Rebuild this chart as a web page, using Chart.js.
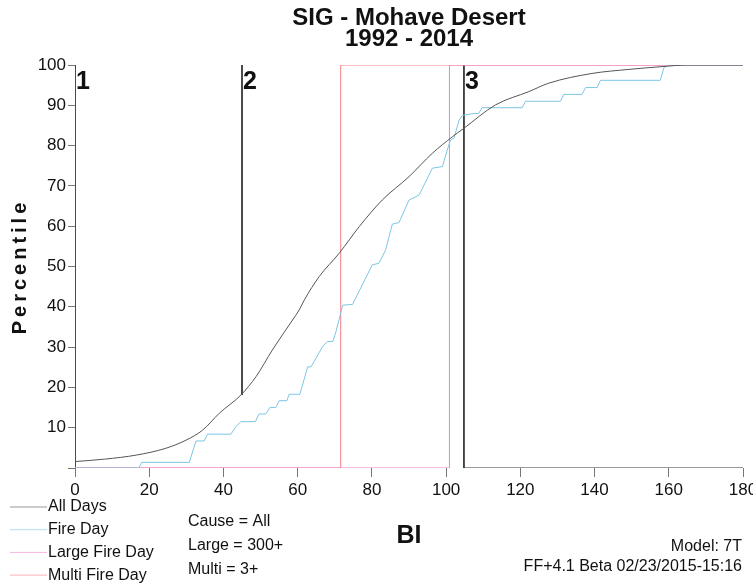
<!DOCTYPE html>
<html>
<head>
<meta charset="utf-8">
<script src="https://cdn.jsdelivr.net/npm/chart.js@4.4.0/dist/chart.umd.min.js"></script>
<style>
	html, body { margin: 0; padding: 0; background: #fff; }
</style>
</head>
<body>
<canvas id="myChart" width="753" height="587"></canvas>
<script>
// cumulative percentile curves
const allDaysBI = [0, 8, 16.5, 24.5, 29.9, 34.4, 38.9, 44.7, 48.8, 53.2, 58.6, 60.4, 61.8, 65.8, 71.2, 76.6, 82.8, 90, 96.3, 101.7, 104.8, 113.3, 122.3, 127.7, 139.3, 149.2, 158.2, 165, 180];
const allDaysPct = [1.6, 2.2, 3.2, 4.9, 6.9, 9.4, 13.6, 18.1, 22.7, 29.3, 36.7, 39.2, 41.7, 47.5, 53.3, 59.9, 66.5, 72.3, 78.1, 82.2, 84.3, 90.1, 93.4, 95.5, 97.9, 98.9, 99.6, 100, 100];

const fireDayBI = [0, 17.2, 18, 30.8, 32.6, 34.8, 35.7, 42, 43.4, 44.7, 48.6, 49.6, 51.4, 52.5, 54.1, 55, 57.1, 57.7, 60.6, 62.7, 63.6, 66.7, 68, 69.5, 70.3, 71.2, 71.6, 72.1, 74.8, 80.1, 81.9, 83.7, 85.5, 87.3, 90, 92.7, 96.3, 99, 100.3, 101.2, 102.1, 103.5, 104.4, 107, 108.8, 109.7, 120.5, 121.4, 130.8, 131.7, 136.6, 137.6, 140.7, 141.6, 157.7, 158.7, 160, 180];
const fireDayPct = [0, 0, 1.4, 1.4, 6.7, 6.7, 8.4, 8.4, 10.3, 11.5, 11.5, 13.4, 13.4, 15, 15, 16.7, 16.7, 18.3, 18.3, 25.1, 25.1, 30.1, 31.4, 31.4, 33.8, 37, 38.4, 40.4, 40.6, 50.4, 50.8, 54.1, 60.5, 60.9, 66.5, 67.7, 74.4, 74.8, 78.9, 81.4, 81.8, 86.3, 87.5, 87.9, 88, 89.4, 89.4, 91, 91, 92.7, 92.7, 94.4, 94.4, 96.2, 96.2, 99.4, 100, 100];

const largeFireBI = [0, 100.9, 100.9, 180];
const largeFirePct = [0, 0, 100, 100];

const multiFireBI = [0, 71.6, 71.6, 180];
const multiFirePct = [0, 0, 100, 100];

// breakpoint lines 1, 2, 3
const breakBI = [0, 45, 104.8];
const breakLow = [0, 18.1, 0];
const breakLabels = ["1", "2", "3"];

const seriesNames = ["All Days", "Fire Day", "Large Fire Day", "Multi Fire Day"];
const seriesColors = ["#555555", "#7cc6e4", "#ee82cc", "#f47e84"];
const notes = ["Cause = All", "Large = 300+", "Multi = 3+"];
const footer = ["Model: 7T", "FF+4.1 Beta 02/23/2015-15:16"];
const yTitle = "Percentile";

const FONT = '"Liberation Sans", Arial, sans-serif';

function pts(xs, ys) {
	return xs.map((x, i) => ({ x: x, y: ys[i] }));
}

const breakSets = breakBI.map((b, i) => {
	const d = [{ x: b, y: 100 }, { x: b, y: breakLow[i] }];
	if (i === breakBI.length - 1) d.push({ x: 180, y: 0 });
	return {
		label: "break " + breakLabels[i],
		data: d,
		borderColor: "#333",
		borderWidth: 1,
		pointRadius: 0,
		showLine: true,
	};
});

const extras = {
	id: "extras",
	afterDraw(chart) {
		const c = chart.ctx;
		const xs = chart.scales.x;
		const area = chart.chartArea;
		c.save();
		// breakpoint numbers
		c.fillStyle = "#111";
		c.font = "bold 25px " + FONT;
		c.textAlign = "left";
		c.textBaseline = "alphabetic";
		breakBI.forEach((b, i) => {
			c.fillText(breakLabels[i], xs.getPixelForValue(b) + 1, 88.5);
		});
		// y axis title, letter-spaced like the original
		c.save();
		c.translate(20, (area.top + area.bottom) / 2);
		c.rotate(-Math.PI / 2);
		c.font = "bold 20px " + FONT;
		c.letterSpacing = "4px";
		c.textAlign = "center";
		c.textBaseline = "middle";
		c.fillText(yTitle, 0, 0);
		c.restore();
		// legend
		c.font = "16px " + FONT;
		c.textBaseline = "middle";
		seriesNames.forEach((name, i) => {
			const y = 507 + i * 22.7;
			c.strokeStyle = seriesColors[i];
			c.globalAlpha = 0.6;
			c.lineWidth = 1;
			c.beginPath();
			c.moveTo(10, y);
			c.lineTo(47, y);
			c.stroke();
			c.globalAlpha = 1;
			c.fillStyle = "#111";
			c.fillText(name, 48, y);
		});
		notes.forEach((t, i) => {
			c.fillText(t, 188, 522 + i * 23.7);
		});
		c.textAlign = "right";
		footer.forEach((t, i) => {
			c.fillText(t, 742, 546.5 + i * 20);
		});
		c.restore();
	},
};

const ctx = document.getElementById("myChart");

const myChart = new Chart(ctx, {
	type: "scatter",
	data: {
		datasets: [
			{
				label: seriesNames[0],
				data: pts(allDaysBI, allDaysPct),
				borderColor: seriesColors[0],
				borderWidth: 1,
				pointRadius: 0,
				showLine: true,
				cubicInterpolationMode: "monotone",
			},
			{
				label: seriesNames[1],
				data: pts(fireDayBI, fireDayPct),
				borderColor: seriesColors[1],
				borderWidth: 1,
				pointRadius: 0,
				showLine: true,
			},
			{
				label: seriesNames[2],
				data: pts(largeFireBI, largeFirePct),
				borderColor: seriesColors[2],
				borderWidth: 1,
				pointRadius: 0,
				showLine: true,
			},
			{
				label: seriesNames[3],
				data: pts(multiFireBI, multiFirePct),
				borderColor: seriesColors[3],
				borderWidth: 1,
				pointRadius: 0,
				showLine: true,
			},
			...breakSets,
		],
	},
	options: {
		responsive: false,
		animation: false,
		devicePixelRatio: 1,
		layout: { padding: { left: 0, right: 10, top: 0, bottom: 0 } },
		plugins: {
			legend: { display: false },
			tooltip: { enabled: false },
			title: {
				display: true,
				fullSize: false,
				text: ["SIG - Mohave Desert", "1992 - 2014"],
				color: "#111",
				font: { family: FONT, size: 24, weight: "bold", lineHeight: 0.875 },
				padding: { top: 8, bottom: 15 },
			},
		},
		scales: {
			x: {
				type: "linear",
				min: 0,
				max: 180,
				ticks: {
					stepSize: 20,
					color: "#111",
					font: { family: FONT, size: 17 },
					padding: 3,
					maxRotation: 0,
				},
				grid: { drawOnChartArea: false, tickLength: 9, color: "#777" },
				border: { display: false },
				title: {
					display: true,
					text: "BI",
					color: "#111",
					font: { family: FONT, size: 25, weight: "bold", lineHeight: 1.2 },
					padding: { top: 4, bottom: 36 },
				},
				afterFit(s) {
					s.height = 119;
					s.paddingRight = 0;
					s.paddingLeft = 0;
				},
			},
			y: {
				min: 0,
				max: 100,
				ticks: {
					stepSize: 10,
					color: "#111",
					font: { family: FONT, size: 17 },
					padding: 2,
					callback: (v) => (v === 0 ? "" : v),
				},
				grid: { drawOnChartArea: false, tickLength: 7, color: "#777" },
				border: { display: false },
				afterFit(s) {
					s.width = 75;
				},
			},
		},
	},
	plugins: [extras],
});
</script>
</body>
</html>
